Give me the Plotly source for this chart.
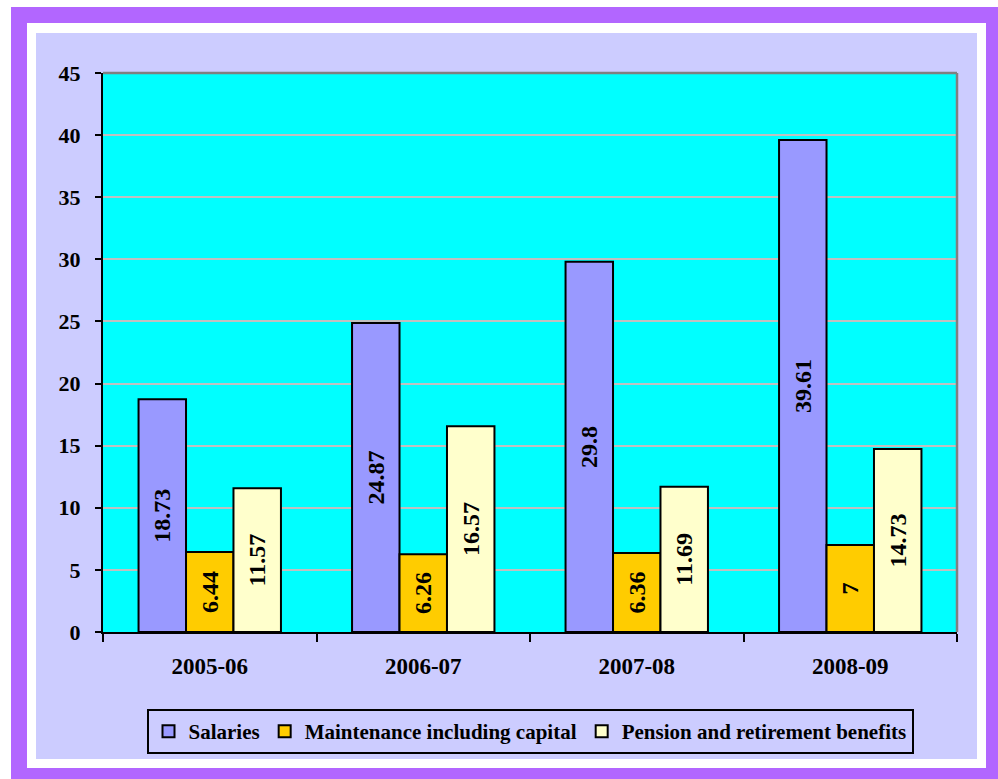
import plotly.graph_objects as go

years = ["2005-06", "2006-07", "2007-08", "2008-09"]
salaries = [18.73, 24.87, 29.8, 39.61]
maintenance = [6.44, 6.26, 6.36, 7]
pension = [11.57, 16.57, 11.69, 14.73]

series_names = ["Salaries", "Maintenance including capital", "Pension and retirement benefits"]
series_values = [salaries, maintenance, pension]
series_colors = ["#9999FF", "#FFCC00", "#FFFFCC"]

FONT = "Times New Roman, Liberation Serif, serif"

W, H = 998, 779
L, R, T, B = 103, 957, 73, 632
pw, ph = R - L, B - T

def px(x):
    return (x - L) / pw

def py(y):
    return (B - y) / ph

fig = go.Figure()
for name, vals, col in zip(series_names, series_values, series_colors):
    fig.add_trace(go.Bar(
        x=years, y=vals, name=name,
        marker=dict(color=col, line=dict(color="black", width=2)),
        text=[f"{v:g}" for v in vals],
        textposition="inside", insidetextanchor="middle", textangle=-90,
        textfont=dict(family=FONT, size=24, color="black", weight="bold"),
        constraintext="none",
    ))

shapes = [
    dict(type="rect", xref="paper", yref="paper", x0=px(11), x1=px(1010), y0=py(7), y1=py(790),
         fillcolor="#B266FF", line=dict(width=0), layer="below"),
    dict(type="rect", xref="paper", yref="paper", x0=px(27), x1=px(986), y0=py(23), y1=py(768),
         fillcolor="white", line=dict(width=0), layer="below"),
    dict(type="rect", xref="paper", yref="paper", x0=px(36), x1=px(977), y0=py(33), y1=py(759),
         fillcolor="#CCCCFF", line=dict(width=0), layer="below"),
    dict(type="rect", xref="paper", yref="paper", x0=0, x1=1, y0=0, y1=1,
         fillcolor="#00FFFF", line=dict(width=0), layer="below"),
    dict(type="line", xref="paper", yref="paper", x0=0, x1=1, y0=1, y1=1,
         line=dict(color="#808080", width=2.5), layer="above"),
    dict(type="line", xref="paper", yref="paper", x0=1, x1=1, y0=0, y1=1,
         line=dict(color="#808080", width=2.5), layer="above"),
]

fig.update_layout(
    width=W, height=H, autosize=False,
    margin=dict(l=L, r=W - R, t=T, b=H - B, pad=0),
    paper_bgcolor="white", plot_bgcolor="rgba(0,0,0,0)",
    barmode="group", bargap=0.333, bargroupgap=0,
    uniformtext=dict(minsize=24, mode="show"),
    font=dict(family=FONT, size=20, color="black", weight="bold"),
    shapes=shapes,
    showlegend=True,
    legend=dict(orientation="h", x=0.5, xanchor="center", y=py(709), yanchor="top",
                bgcolor="#CCCCFF", bordercolor="black", borderwidth=2,
                font=dict(family=FONT, size=21, color="black", weight="bold"),
                itemwidth=30, traceorder="normal"),
    xaxis=dict(type="category", showline=True, linecolor="black", linewidth=2, ticks="outside",
               tickson="boundaries", ticklen=8, tickwidth=2, tickcolor="black",
               showgrid=False, ticklabelstandoff=12,
               tickfont=dict(family=FONT, size=23, color="black", weight="bold")),
    yaxis=dict(range=[0, 45], dtick=5, showline=True, linecolor="black", linewidth=2,
               ticks="outside", ticklen=6, tickwidth=2, tickcolor="black",
               showgrid=True, gridcolor="#C0C0C0", gridwidth=2, zeroline=False,
               ticklabelstandoff=10,
               tickfont=dict(family=FONT, size=22, color="black", weight="bold")),
)

fig.write_html("out.html")
